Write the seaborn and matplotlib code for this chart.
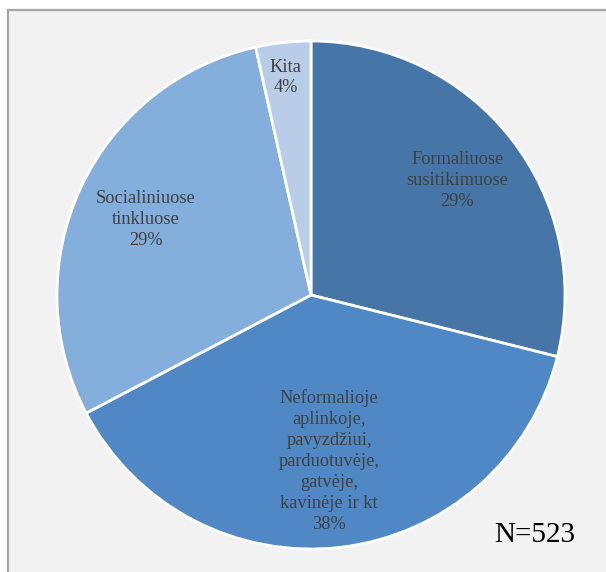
import matplotlib
matplotlib.use("Agg")
import matplotlib.pyplot as plt
import matplotlib.patches as mpatches
import seaborn as sns
import numpy as np

categories = ["Formaliuose\nsusitikimuose",
              "Neformalioje\naplinkoje,\npavyzdžiui,\nparduotuvėje,\ngatvėje,\nkavinėje ir kt",
              "Socialiniuose\ntinkluose",
              "Kita"]
values = [28.9, 38.4, 29.2, 3.5]
pct_labels = ["29%", "38%", "29%", "4%"]
colors = ["#4676a8", "#4f88c5", "#84aedb", "#b9cde8"]
note = "N=523"

sns.set_style("white")
plt.rcParams['font.family'] = ['Liberation Serif', 'DejaVu Serif']

fig = plt.figure(figsize=(6.06, 5.72), dpi=100)
fig.patch.set_facecolor("white")
W, H = 606, 572
# chart area background box
box = mpatches.Rectangle((7.5 / W, -0.05), 1.5, (H - 9.5) / H + 0.05,
                         transform=fig.transFigure, facecolor="#f2f2f2",
                         edgecolor="#a6a6a6", linewidth=1.6, zorder=-10)
fig.patches.append(box)

cx, cy, r = 311, 295, 254
ax = fig.add_axes([(cx - r) / W, (H - cy - r) / H, 2 * r / W, 2 * r / H])
ax.set_zorder(1)
ax.patch.set_visible(False)
pal = sns.color_palette(colors)
wedges, _ = ax.pie(values, colors=pal, startangle=90, counterclock=False,
                   radius=1, wedgeprops=dict(edgecolor="white", linewidth=2.0))
ax.set_xlim(-1, 1)
ax.set_ylim(-1, 1)
ax.axis("off")

label_r = [0.73, 0.657, 0.715, 0.862]
ang_adj = [0.0, -0.6, 0.4, 0.3]
for w, cat, p, lr, da in zip(wedges, categories, pct_labels, label_r, ang_adj):
    mid = np.deg2rad((w.theta1 + w.theta2) / 2 + da)
    ax.text(lr * np.cos(mid), lr * np.sin(mid), f"{cat}\n{p}",
            ha="center", va="center", fontsize=13.2, color="#404040",
            linespacing=1.3)

fig.text(535 / W, 1 - 535 / H, note, ha="center", va="center",
         fontsize=21, color="black", zorder=5)

fig.savefig("out.png", dpi=100)
